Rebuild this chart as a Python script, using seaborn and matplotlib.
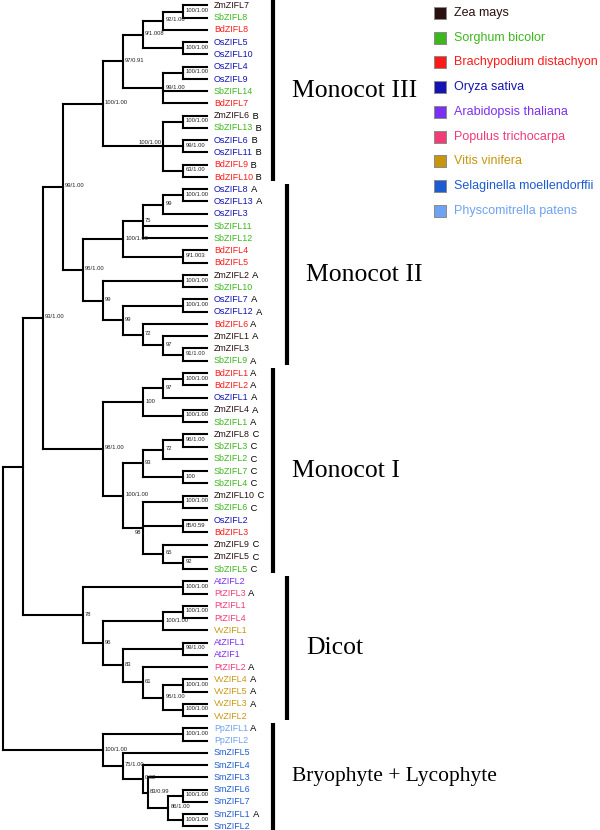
import numpy as np
import pandas as pd
import seaborn as sns
import matplotlib.pyplot as plt

# Tree data: Newick, support values as node labels, branch lengths in column steps
# ('^' = label left/above the node, '_' = label left/below the node)
mono3 = ("(((((ZmZIFL7,SbZIFL8)100/1.00:1,BdZIFL8)92/1.00:1,(OsZIFL5,OsZIFL10)100/1.00:2)9/1.008:1,"
         "((OsZIFL4,OsZIFL9)100/1.00:1,SbZIFL14,BdZIFL7)99/1.00:2)97/0.91:1,"
         "((ZmZIFL6,SbZIFL13)100/1.00:1,(OsZIFL6,OsZIFL11)99/1.00:1,(BdZIFL9,BdZIFL10)63/1.00:1)^100/1.00:3)100/1.00:2")
mono2 = ("(((((OsZIFL8,OsZIFL13)100/1.00:1,OsZIFL3)99:1,SbZIFL11,SbZIFL12)75:1,(BdZIFL4,BdZIFL5)9/1.003:3)100/1.00:2,"
         "((ZmZIFL2,SbZIFL10)100/1.00:4,((OsZIFL7,OsZIFL12)100/1.00:3,"
         "(BdZIFL6,(ZmZIFL1,(ZmZIFL3,SbZIFL9)91/1.00:1)97:1)72:1)99:1)99:1)95/1.00:1")
mono1 = ("((((BdZIFL1,BdZIFL2)100/1.00:1,OsZIFL1)97:1,(ZmZIFL4,SbZIFL1)100/1.00:2)100:2,"
         "((((ZmZIFL8,SbZIFL3)96/1.00:1,SbZIFL2)72:1,(SbZIFL7,SbZIFL4)100:2)93:1,"
         "((ZmZIFL10,SbZIFL6)100/1.00:2,(OsZIFL2,BdZIFL3)85/0.59:2,(ZmZIFL9,(ZmZIFL5,SbZIFL5)92:1)65:1)_98:1)100/1.00:1)98/1.00:3")
dicot = ("((AtZIFL2,PtZIFL3)100/1.00:5,(((PtZIFL1,PtZIFL4)100/1.00:1,VvZIFL1)100/1.00:3,"
         "((AtZIFL1,AtZIF1)99/1.00:3,(PtZIFL2,((VvZIFL4,VvZIFL5)100/1.00:1,(VvZIFL3,VvZIFL2)100/1.00:1)95/1.00:1)61:1)83:1)96:1)78:3")
bryo = ("((PpZIFL1,PpZIFL2)100/1.00:4,(SmZIFL5,(SmZIFL4,(SmZIFL3,((SmZIFL6,SmZIFL7)100/1.00:0.75,"
        "(SmZIFL1,SmZIFL2)100/1.00:0.75)86/1.00:1)83/0.99:0.25)0.62:1)75/1.00:1)100/1.00:5")
backbone = "((((MONO3,MONO2)99/1.00:1,MONO1)93/1.00:1,DICOT):1,BRYO)"

subgroup = {
    "ZmZIFL6": "B", "SbZIFL13": "B", "OsZIFL6": "B", "OsZIFL11": "B", "BdZIFL9": "B", "BdZIFL10": "B",
    "OsZIFL8": "A", "OsZIFL13": "A", "ZmZIFL2": "A", "OsZIFL7": "A", "OsZIFL12": "A", "BdZIFL6": "A",
    "ZmZIFL1": "A", "SbZIFL9": "A", "BdZIFL1": "A", "BdZIFL2": "A", "OsZIFL1": "A", "ZmZIFL4": "A",
    "SbZIFL1": "A", "ZmZIFL8": "C", "SbZIFL3": "C", "SbZIFL2": "C", "SbZIFL7": "C", "SbZIFL4": "C",
    "ZmZIFL10": "C", "SbZIFL6": "C", "ZmZIFL9": "C", "ZmZIFL5": "C", "SbZIFL5": "C",
    "PtZIFL3": "A", "PtZIFL2": "A", "VvZIFL4": "A", "VvZIFL5": "A", "VvZIFL3": "A",
    "PpZIFL1": "A", "SmZIFL1": "A",
}

clade_names = ["Monocot III", "Monocot II", "Monocot I", "Dicot", "Bryophyte + Lycophyte"]
clade_first = ["ZmZIFL7", "OsZIFL8", "BdZIFL1", "AtZIFL2", "PpZIFL1"]
clade_last = ["BdZIFL10", "SbZIFL9", "SbZIFL5", "VvZIFL2", "SmZIFL2"]

species_codes = ["Zm", "Sb", "Bd", "Os", "At", "Pt", "Vv", "Sm", "Pp"]
species_names = ["Zea mays", "Sorghum bicolor", "Brachypodium distachyon", "Oryza sativa",
                 "Arabidopsis thaliana", "Populus trichocarpa", "Vitis vinifera",
                 "Selaginella moellendorffii", "Physcomitrella patens"]
species_colors = ["#2a1010", "#3cb81c", "#ff1a1a", "#1414b4", "#7b2ff0",
                  "#f23c78", "#c8960e", "#1e5bd0", "#6ea2f2"]
color_of = dict(zip(species_codes, species_colors))


def parse(s, i=0):
    node = {"children": [], "name": "", "len": 0.0}
    if s[i] == "(":
        i += 1
        while True:
            child, i = parse(s, i)
            node["children"].append(child)
            if s[i] == ",":
                i += 1
                continue
            i += 1  # ')'
            break
    j = i
    while j < len(s) and s[j] not in ",():;":
        j += 1
    node["name"] = s[i:j]
    i = j
    if i < len(s) and s[i] == ":":
        j = i + 1
        while j < len(s) and s[j] not in ",();":
            j += 1
        node["len"] = float(s[i + 1:j])
        i = j
    return node, i


newick = (backbone.replace("MONO3", mono3).replace("MONO2", mono2)
          .replace("MONO1", mono1).replace("DICOT", dicot).replace("BRYO", bryo))
root, _ = parse(newick)

# layout (pixel-like data units)
X0, STEP, TIP_X = 2.5, 20.1, 207
Y0, DY = 5.5, 12.25
leaves = []


def layout(node, depth):
    if not node["children"]:
        node["x"] = TIP_X
        node["y"] = Y0 + len(leaves) * DY
        leaves.append(node)
        return
    node["x"] = X0 + depth * STEP
    for c in node["children"]:
        layout(c, depth + c["len"])
    node["y"] = (node["children"][0]["y"] + node["children"][-1]["y"]) / 2


layout(root, 0)

rows = []
internal = []


def collect(node):
    if not node["children"]:
        return
    internal.append(node)
    ch = node["children"]
    rows.append((len(rows), node["x"], ch[0]["y"]))
    rows.append((len(rows) - 1, node["x"], ch[-1]["y"]))
    for c in ch:
        sid = len(rows)
        rows.append((sid, node["x"], c["y"]))
        rows.append((sid, c["x"], c["y"]))
        collect(c)


collect(root)
seg_df = pd.DataFrame(rows, columns=["seg", "x", "y"])

sns.set_theme(style="white")
plt.rcParams["font.family"] = ["Liberation Sans", "DejaVu Sans"]

fig = plt.figure(figsize=(6, 8.3), dpi=100)
ax = fig.add_axes([0, 0, 1, 1])

sns.lineplot(data=seg_df, x="x", y="y", units="seg", estimator=None, sort=False,
             color="black", linewidth=1.5, solid_capstyle="projecting", legend=False, ax=ax)

# support values
for n in internal:
    lab = n["name"]
    if not lab:
        continue
    if lab[0] == "^":
        ax.text(n["x"] - 1.5, n["y"] - 1.5, lab[1:], ha="right", va="bottom", fontsize=4.2, color="#222222")
    elif lab[0] == "_":
        ax.text(n["x"] - 1.5, n["y"] + 2, lab[1:], ha="right", va="top", fontsize=4.2, color="#222222")
    else:
        ax.text(n["x"] + 2, n["y"] - 1, lab, ha="left", va="center", fontsize=4.2, color="#222222")

# leaf labels
for lf in leaves:
    name = lf["name"]
    t = ax.text(TIP_X + 7, lf["y"], name, ha="left", va="center", fontsize=6.4,
                color=color_of[name[:2]])
    if name in subgroup:
        ax.annotate(" " + subgroup[name], xy=(1, 0.45), xycoords=t, ha="left", va="center",
                    fontsize=6.7, color="black")

# clade bars and names
leaf_y = {lf["name"]: lf["y"] for lf in leaves}
for k, (cname, a, b) in enumerate(zip(clade_names, clade_first, clade_last)):
    bx = 273 + 14 * (k % 2)
    y1, y2 = leaf_y[a] - 5, leaf_y[b] + 4
    ax.plot([bx, bx], [y1, y2], color="black", linewidth=3, solid_capstyle="butt")
    ax.text(bx + 19, (y1 + y2) / 2, cname, ha="left", va="center",
            fontsize=18.5 if len(cname) < 15 else 15.5,
            family=["Liberation Serif", "DejaVu Serif"], color="black")

# species legend
for k, (sp, col) in enumerate(zip(species_names, species_colors)):
    ly = 13 + k * 24.75
    ax.scatter([440], [ly], marker="s", s=72, color=col, edgecolor="#8a8a8a", linewidth=0.7, zorder=3)
    ax.text(454, ly, sp, ha="left", va="center", fontsize=9, color=col)

ax.set_xlim(0, 600)
ax.set_ylim(830, 0)
ax.axis("off")
fig.savefig("out.png", dpi=100)
